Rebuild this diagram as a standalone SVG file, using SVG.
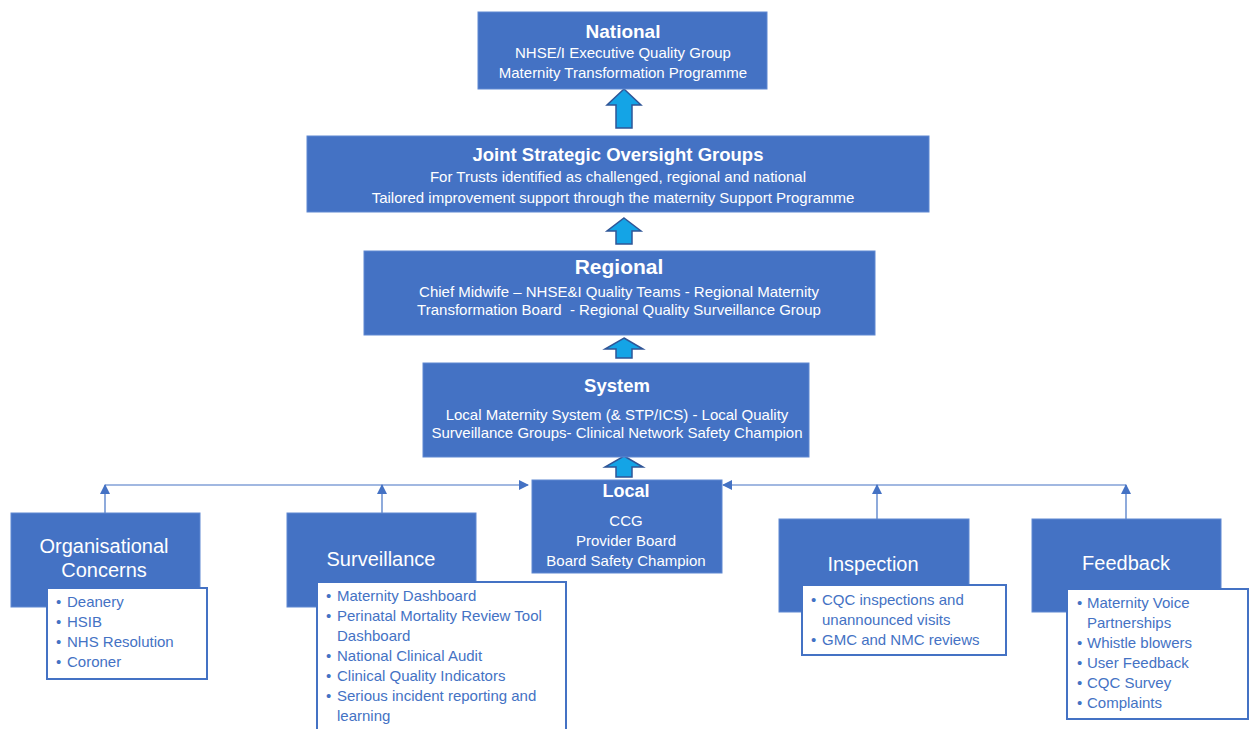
<svg xmlns="http://www.w3.org/2000/svg" width="1249" height="729" viewBox="0 0 1249 729">
<style>
  .box { fill: #4472C4; stroke: #5F88D2; stroke-width: 1; }
  .list { fill: #FFFFFF; stroke: #4472C4; stroke-width: 2; }
  .title { font-family: "Liberation Sans", Arial, sans-serif; font-weight: bold; fill: #FFFFFF; text-anchor: middle; }
  .body { font-family: "Liberation Sans", Arial, sans-serif; fill: #FFFFFF; text-anchor: middle; font-size: 15px; }
  .head { font-family: "Liberation Sans", Arial, sans-serif; fill: #FFFFFF; text-anchor: middle; font-size: 20px; }
  .item { font-family: "Liberation Sans", Arial, sans-serif; fill: #4472C4; font-size: 15px; }
  .up { fill: #14A4E6; stroke: #2F5597; stroke-width: 1.5; }
  .conn { stroke: #4472C4; stroke-width: 1.2; fill: none; }
</style>
<defs>
  <marker id="ah" markerUnits="userSpaceOnUse" markerWidth="10" markerHeight="10" viewBox="0 0 10 10" refX="9" refY="5" orient="auto">
    <path d="M0,0 L10,5 L0,10 Z" fill="#4472C4"/>
  </marker>
</defs>

<g id="connectors">
  <line class="conn" x1="105" y1="485" x2="528" y2="485" marker-end="url(#ah)"/>
  <line class="conn" x1="1126" y1="485" x2="723" y2="485" marker-end="url(#ah)"/>
  <line class="conn" x1="105" y1="513" x2="105" y2="485" marker-end="url(#ah)"/>
  <line class="conn" x1="382" y1="513" x2="382" y2="485" marker-end="url(#ah)"/>
  <line class="conn" x1="877" y1="519" x2="877" y2="485" marker-end="url(#ah)"/>
  <line class="conn" x1="1126" y1="519" x2="1126" y2="485" marker-end="url(#ah)"/>
  <path class="up" d="M624,89 L641,105 L632,105 L632,128 L616,128 L616,105 L607,105 Z"/>
  <path class="up" d="M624,218 L641,231 L632,231 L632,244 L616,244 L616,231 L607,231 Z"/>
  <path class="up" d="M624,338 L643,349 L632,349 L632,358 L616,358 L616,349 L605,349 Z"/>
  <path class="up" d="M624,456 L643,467 L632,467 L632,477 L616,477 L616,467 L605,467 Z"/>
</g>

<g id="national">
  <rect class="box" x="478" y="12" width="289" height="77"/>
  <text class="title" x="623" y="38" font-size="19">National</text>
  <text class="body" x="623" y="58">NHSE/I Executive Quality Group</text>
  <text class="body" x="623" y="78">Maternity Transformation Programme</text>
</g>

<g id="joint">
  <rect class="box" x="307" y="136" width="622" height="76"/>
  <text class="title" x="618" y="161" font-size="18.5">Joint Strategic Oversight Groups</text>
  <text class="body" x="618" y="182" font-size="15.5">For Trusts identified as challenged, regional and national</text>
  <text class="body" x="613" y="203" font-size="16">Tailored improvement support through the maternity Support Programme</text>
</g>

<g id="regional">
  <rect class="box" x="364" y="251" width="511" height="84"/>
  <text class="title" x="619" y="274" font-size="21">Regional</text>
  <text class="body" x="619" y="297">Chief Midwife – NHSE&amp;I Quality Teams - Regional Maternity</text>
  <text class="body" x="619" y="315" xml:space="preserve">Transformation Board  - Regional Quality Surveillance Group</text>
</g>

<g id="system">
  <rect class="box" x="423" y="363" width="386" height="94"/>
  <text class="title" x="617" y="392" font-size="18.5">System</text>
  <text class="body" x="617" y="420">Local Maternity System (&amp; STP/ICS) - Local Quality</text>
  <text class="body" x="617" y="438">Surveillance Groups- Clinical Network Safety Champion</text>
</g>

<g id="local">
  <rect class="box" x="532" y="480" width="190" height="93"/>
  <text class="title" x="626" y="497" font-size="18">Local</text>
  <text class="body" x="626" y="526">CCG</text>
  <text class="body" x="626" y="546">Provider Board</text>
  <text class="body" x="626" y="566">Board Safety Champion</text>
</g>

<g id="organisational-concerns">
  <rect class="box" x="11" y="513" width="189" height="94"/>
  <text class="head" x="104" y="553">Organisational</text>
  <text class="head" x="104" y="577">Concerns</text>
  <rect class="list" x="47" y="588" width="160" height="91"/>
  <text class="item" y="607"><tspan x="56">•</tspan><tspan x="67">Deanery</tspan></text>
  <text class="item" y="627"><tspan x="56">•</tspan><tspan x="67">HSIB</tspan></text>
  <text class="item" y="647"><tspan x="56">•</tspan><tspan x="67">NHS Resolution</tspan></text>
  <text class="item" y="667"><tspan x="56">•</tspan><tspan x="67">Coroner</tspan></text>
</g>

<g id="surveillance">
  <rect class="box" x="287" y="513" width="189" height="94"/>
  <text class="head" x="381" y="566">Surveillance</text>
  <rect class="list" x="317" y="582" width="249" height="160"/>
  <text class="item" y="601"><tspan x="326">•</tspan><tspan x="337">Maternity Dashboard</tspan></text>
  <text class="item" y="621"><tspan x="326">•</tspan><tspan x="337">Perinatal Mortality Review Tool</tspan></text>
  <text class="item" y="641"><tspan x="337">Dashboard</tspan></text>
  <text class="item" y="661"><tspan x="326">•</tspan><tspan x="337">National Clinical Audit</tspan></text>
  <text class="item" y="681"><tspan x="326">•</tspan><tspan x="337">Clinical Quality Indicators</tspan></text>
  <text class="item" y="701"><tspan x="326">•</tspan><tspan x="337">Serious incident reporting and</tspan></text>
  <text class="item" y="721"><tspan x="337">learning</tspan></text>
</g>

<g id="inspection">
  <rect class="box" x="779" y="519" width="190" height="93"/>
  <text class="head" x="873" y="571">Inspection</text>
  <rect class="list" x="802" y="585" width="204" height="70"/>
  <text class="item" y="605"><tspan x="811">•</tspan><tspan x="822">CQC inspections and</tspan></text>
  <text class="item" y="625"><tspan x="822">unannounced visits</tspan></text>
  <text class="item" y="645"><tspan x="811">•</tspan><tspan x="822">GMC and NMC reviews</tspan></text>
</g>

<g id="feedback">
  <rect class="box" x="1032" y="519" width="189" height="93"/>
  <text class="head" x="1126" y="570">Feedback</text>
  <rect class="list" x="1067" y="589" width="181" height="130"/>
  <text class="item" y="608"><tspan x="1077">•</tspan><tspan x="1087">Maternity Voice</tspan></text>
  <text class="item" y="628"><tspan x="1087">Partnerships</tspan></text>
  <text class="item" y="648"><tspan x="1077">•</tspan><tspan x="1087">Whistle blowers</tspan></text>
  <text class="item" y="668"><tspan x="1077">•</tspan><tspan x="1087">User Feedback</tspan></text>
  <text class="item" y="688"><tspan x="1077">•</tspan><tspan x="1087">CQC Survey</tspan></text>
  <text class="item" y="708"><tspan x="1077">•</tspan><tspan x="1087">Complaints</tspan></text>
</g>
</svg>
